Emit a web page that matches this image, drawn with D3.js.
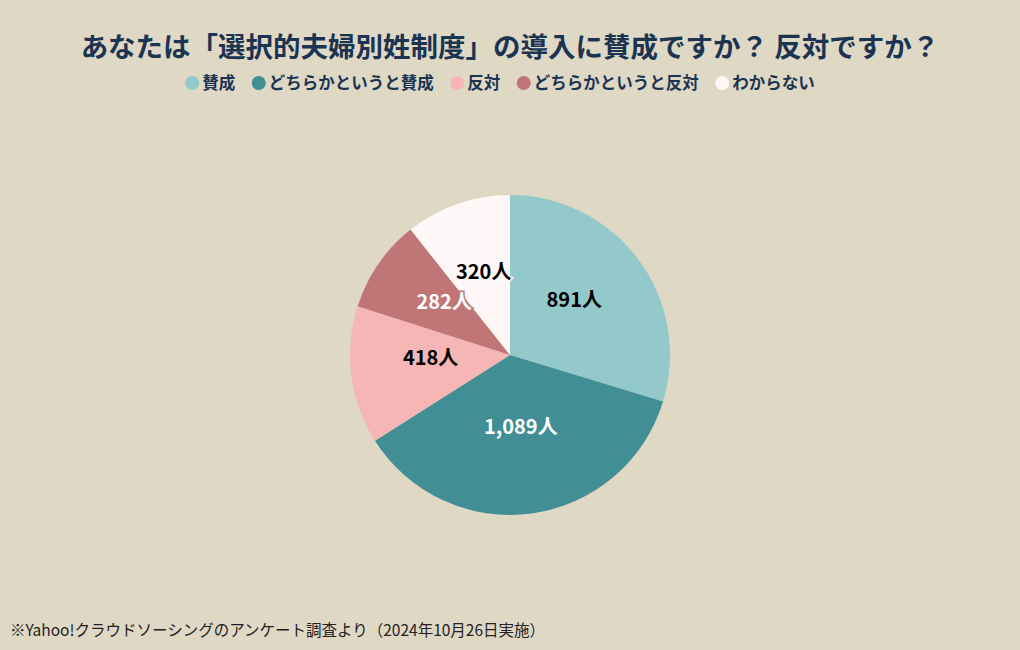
<!DOCTYPE html>
<html><head><meta charset="utf-8">
<script src="https://cdn.jsdelivr.net/npm/d3@7"></script>
<style>
html,body{margin:0;padding:0;background:#dfd8c5;}
svg{display:block;}
text{font-family:"Noto Sans CJK JP","Noto Sans",sans-serif;}
</style></head>
<body>
<svg id="chart" width="1020" height="650"></svg>
<script>
const categories = ["賛成","どちらかというと賛成","反対","どちらかというと反対","わからない"];
const values = [891,1089,418,282,320];
const colors = ["#94c9cc","#418f95","#f5b6b5","#c07576","#fdf8f7"];
const labelColors = ["#000000","#ffffff","#000000","#ffffff","#000000"];
const title = "あなたは「選択的夫婦別姓制度」の導入に賛成ですか？ 反対ですか？";
const footnote = "※Yahoo!クラウドソーシングのアンケート調査より（2024年10月26日実施）";

const W = 1020, H = 650;
const svg = d3.select("#chart");
svg.append("rect").attr("width",W).attr("height",H).attr("fill","#dfd8c5");

svg.append("text").attr("x",W/2).attr("y",57).attr("text-anchor","middle")
  .attr("font-size",27.5).attr("font-weight",700).attr("fill","#1b3452").text(title);

// legend
const lg = svg.append("g");
let x = 0;
const gap = 16.5;
categories.forEach((c,i)=>{
  const g = lg.append("g").attr("transform",`translate(${x},0)`);
  g.append("circle").attr("cx",7).attr("cy",0).attr("r",7).attr("fill",colors[i]);
  const t = g.append("text").attr("x",17).attr("y",6).attr("font-size",16.5).attr("font-weight",700)
    .attr("fill","#1b3452").text(c);
  x += 17 + t.node().getComputedTextLength() + gap;
});
x -= gap;
lg.attr("transform",`translate(${(W - x)/2 - 10},83)`);

// pie
const cx = 510, cy = 355, R = 160;
const pie = d3.pie().sort(null).value(d=>d)(values);
const arc = d3.arc().innerRadius(0).outerRadius(R);
const pg = svg.append("g").attr("transform",`translate(${cx},${cy})`);
pg.selectAll("path").data(pie).join("path").attr("d",arc).attr("fill",(d,i)=>colors[i]);
const fmt = d3.format(",");
pg.selectAll("text.lbl").data(pie).join("text").attr("class","lbl")
  .attr("transform",d=>`translate(${arc.centroid(d)})`)
  .attr("text-anchor","middle").attr("dy","0.35em").attr("y",-7)
  .attr("font-size",20).attr("font-weight",600)
  .attr("fill",(d,i)=>labelColors[i])
  .attr("stroke",(d,i)=>colors[i]).attr("stroke-width",3).attr("paint-order","stroke")
  .text(d=>fmt(d.data)+"人");

svg.append("text").attr("x",10).attr("y",636).attr("font-size",15.5).attr("fill","#222")
  .text(footnote);
</script>
</body></html>
